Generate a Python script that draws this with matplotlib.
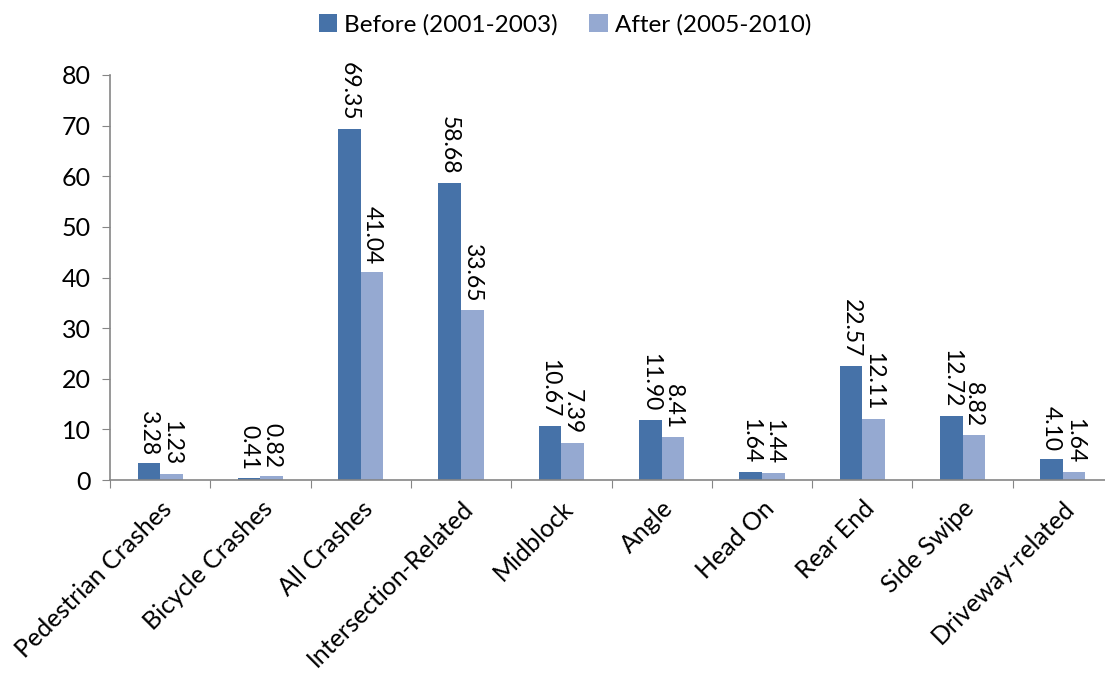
import matplotlib
matplotlib.use("Agg")
import matplotlib.pyplot as plt
import numpy as np

# crash rates before and after, per crash type
categories = ["Pedestrian Crashes", "Bicycle Crashes", "All Crashes", "Intersection-Related",
              "Midblock", "Angle", "Head On", "Rear End", "Side Swipe", "Driveway-related"]
before = [3.28, 0.41, 69.35, 58.68, 10.67, 11.90, 1.64, 22.57, 12.72, 4.10]
after = [1.23, 0.82, 41.04, 33.65, 7.39, 8.41, 1.44, 12.11, 8.82, 1.64]
series_names = ["Before (2001-2003)", "After (2005-2010)"]

plt.rcParams['font.family'] = ['Lato', 'DejaVu Sans']

fig = plt.figure(figsize=(11.05, 6.73), dpi=100)
ax = fig.add_axes([110 / 1105, 1 - 480 / 673, 1003 / 1105, 405 / 673])

x = np.arange(len(categories))
w = 0.225
b1 = ax.bar(x - w / 2, before, w, color="#4672A8", label=series_names[0])
b2 = ax.bar(x + w / 2, after, w, color="#95A9D1", label=series_names[1])

# value labels rotated, reading top to bottom
for bars, vals in ((b1, before), (b2, after)):
    for bar, v in zip(bars, vals):
        ax.annotate(f"{v:.2f}", (bar.get_x() + bar.get_width() / 2, v),
                    xytext=(0, 6), textcoords="offset points",
                    rotation=270, ha="center", va="bottom", fontsize=16.5)

ax.set_xlim(-0.5, len(categories) - 0.5)
ax.set_ylim(0, 80)
ax.set_yticks(range(0, 81, 10))
ax.set_xticks(np.arange(len(categories) + 1) - 0.5, minor=False)
ax.set_xticklabels([])
ax.set_xticks(x, minor=True)
ax.set_xticklabels(categories, minor=True, rotation=45, ha="right", rotation_mode="anchor", fontsize=18)
ax.tick_params(axis="x", which="minor", length=0, pad=12)
ax.tick_params(axis="x", which="major", length=6, direction="out", color="#868686")
ax.tick_params(axis="y", length=6, color="#868686", labelsize=18, pad=8)

for s in ("top", "right"):
    ax.spines[s].set_visible(False)
for s in ("left", "bottom"):
    ax.spines[s].set_color("#868686")
    ax.spines[s].set_linewidth(1.2)

fig.legend(handles=[b1, b2], loc="upper center", bbox_to_anchor=(565 / 1105, 1.012), ncol=2,
           frameon=False, fontsize=17.5, handlelength=0.75, handleheight=0.75, columnspacing=1.3,
           handletextpad=0.3)

fig.savefig("out.png", dpi=100)
